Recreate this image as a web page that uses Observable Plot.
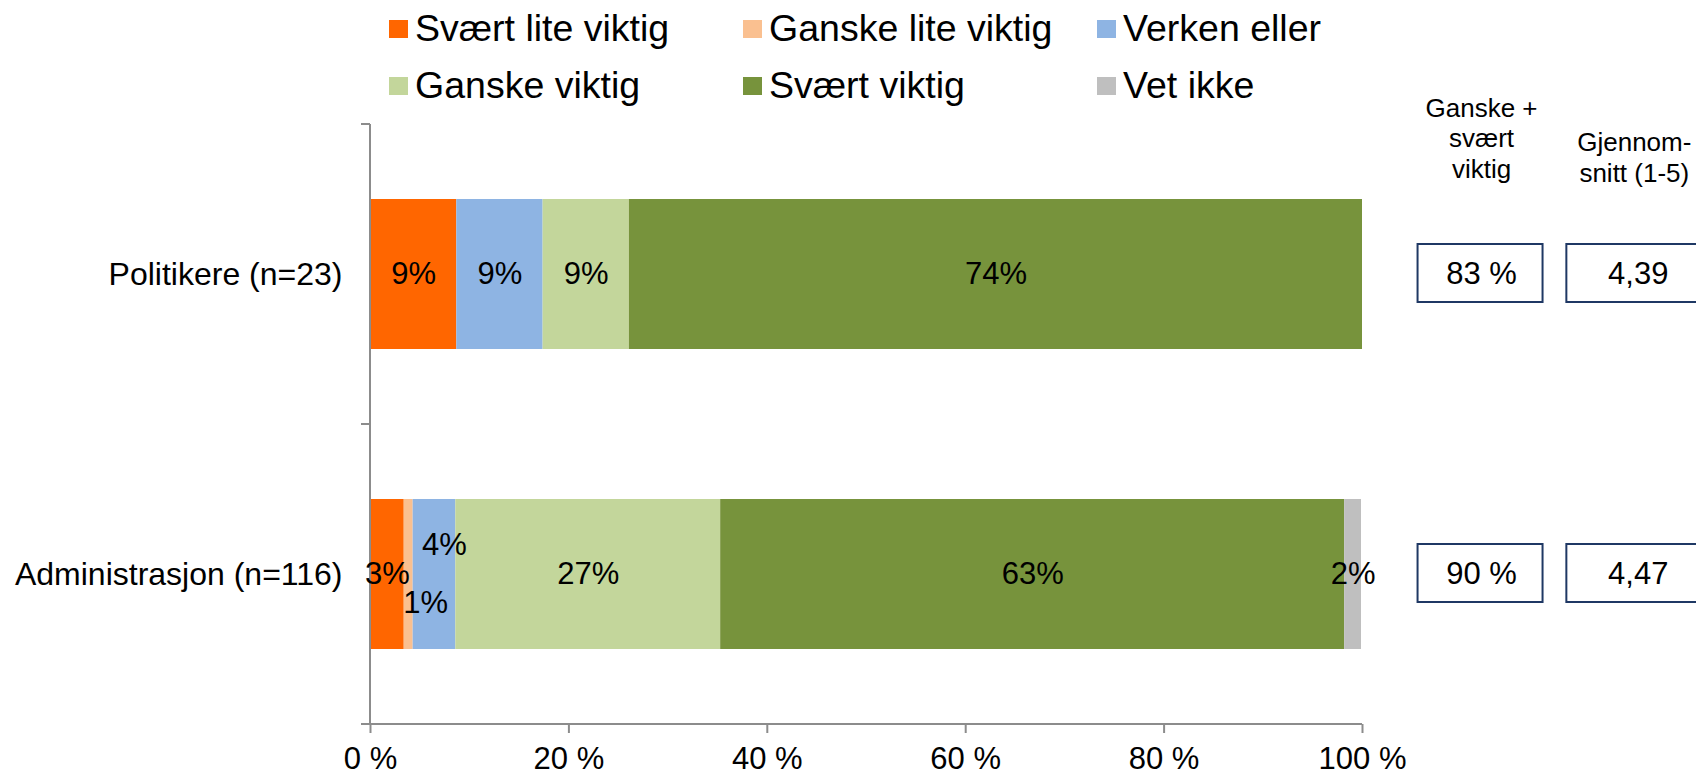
<!DOCTYPE html>
<html><head><meta charset="utf-8">
<script src="https://cdn.jsdelivr.net/npm/d3@7"></script>
<script src="https://cdn.jsdelivr.net/npm/@observablehq/plot@0.6"></script>
<style>
body{margin:0;background:#fff;font-family:"Liberation Sans",Arial,sans-serif;}
#wrap{position:relative;width:1696px;height:776px;overflow:hidden;background:#fff}
#legend{position:absolute;left:389px;top:0;display:grid;grid-template-columns:354px 354px 354px;grid-auto-rows:57px}
.item{display:flex;align-items:center;font-size:37.5px;color:#000;white-space:nowrap}
.sw{width:19px;height:18px;margin-right:7px;flex:none}
</style></head><body><div id="wrap"><div id="legend"></div></div>
<script>
const groups = ["Politikere (n=23)", "Administrasjon (n=116)"];
const answers = ["Svært lite viktig", "Ganske lite viktig", "Verken eller", "Ganske viktig", "Svært viktig", "Vet ikke"];
const colors = ["#FF6600", "#FAC090", "#8EB4E3", "#C3D69B", "#77933C", "#BFBFBF"];
const politikere = [8.7, 0, 8.7, 8.7, 73.9, 0];
const administrasjon = [3.4, 0.9, 4.3, 26.7, 62.9, 1.7];
const politikereLabels = ["9%", "", "9%", "9%", "74%", ""];
const administrasjonLabels = ["3%", "1%", "4%", "27%", "63%", "2%"];
const shareImportant = ["83 %", "90 %"];
const average = ["4,39", "4,47"];
const xTicks = [0, 20, 40, 60, 80, 100];
const headerShare = "Ganske +\nsvært\nviktig";
const headerAverage = "Gjennom-\nsnitt (1-5)";

// legend
const legend = document.getElementById("legend");
answers.forEach((a, i) => {
  const it = document.createElement("div");
  it.className = "item";
  it.innerHTML = `<span class="sw" style="background:${colors[i]}"></span><span>${a}</span>`;
  legend.appendChild(it);
});

// stacked rows
const series = [politikere, administrasjon];
const labels = [politikereLabels, administrasjonLabels];
const rows = [];
groups.forEach((g, gi) => {
  let acc = 0;
  answers.forEach((a, ai) => {
    const v = series[gi][ai];
    rows.push({group: g, answer: a, value: v, label: labels[gi][ai], x1: acc, x2: acc + v, key: gi + "|" + ai});
    acc += v;
  });
});
const segs = rows.filter(d => d.value > 0);
const nudgedUp = ["1|2"];
const nudgedDown = ["1|1"];
const plainLabels = segs.filter(d => d.label && !nudgedUp.includes(d.key) && !nudgedDown.includes(d.key));

function axisLines(index, scales, values, dims) {
  const g = d3.create("svg:g").attr("stroke", "#8c8c8c").attr("stroke-width", 2).attr("fill", "none");
  const left = scales.x(0), right = scales.x(100);
  const top = dims.marginTop, bottom = dims.height - dims.marginBottom;
  const step = (bottom - top) / groups.length;
  g.append("line").attr("x1", left).attr("x2", left).attr("y1", top).attr("y2", bottom);
  g.append("line").attr("x1", left - 9).attr("x2", right).attr("y1", bottom).attr("y2", bottom);
  for (let i = 0; i <= groups.length; i++) {
    g.append("line").attr("x1", left - 9).attr("x2", left).attr("y1", top + i * step).attr("y2", top + i * step);
  }
  return g.node();
}

const chart = Plot.plot({
  width: 1696,
  height: 776,
  marginLeft: 370,
  marginRight: 334,
  marginTop: 124,
  marginBottom: 52,
  style: {fontFamily: '"Liberation Sans", Arial, sans-serif', color: "black", background: "transparent", overflow: "visible"},
  x: {domain: [0, 100], label: null},
  y: {domain: groups, paddingInner: 0.5, paddingOuter: 0.25, label: null},
  color: {domain: answers, range: colors},
  marks: [
    Plot.barX(segs, {x1: "x1", x2: "x2", y: "group", fill: "answer"}),
    axisLines,
    Plot.axisX({ticks: xTicks, tickFormat: d => d + " %", tickSize: 9, tickPadding: 13, stroke: "#8c8c8c", strokeWidth: 2, fontSize: 31, fill: "black"}),
    Plot.axisY({tickSize: 0, tickPadding: 28, fontSize: 32, fill: "black"}),
    Plot.text(plainLabels, {x: d => (d.x1 + d.x2) / 2, y: "group", text: "label", fontSize: 31, fill: "black"}),
    Plot.text(segs.filter(d => nudgedUp.includes(d.key)), {x: d => (d.x1 + d.x2) / 2, y: "group", text: "label", fontSize: 31, fill: "black", dx: 10, dy: -29}),
    Plot.text(segs.filter(d => nudgedDown.includes(d.key)), {x: d => (d.x1 + d.x2) / 2, y: "group", text: "label", fontSize: 31, fill: "black", dx: 17, dy: 29}),
    Plot.barX(groups, {x1: 105.6, x2: 118.2, y: d => d, fill: "white", stroke: "#1F3864", strokeWidth: 2, insetTop: 45, insetBottom: 47}),
    Plot.barX(groups, {x1: 120.6, x2: 135.2, y: d => d, fill: "white", stroke: "#1F3864", strokeWidth: 2, insetTop: 45, insetBottom: 47}),
    Plot.text(groups, {x: 112.0, y: d => d, text: (d, i) => shareImportant[i], fontSize: 31, fill: "black"}),
    Plot.text(groups, {x: 127.8, y: d => d, text: (d, i) => average[i], fontSize: 31, fill: "black"}),
    Plot.text([headerShare], {x: 112.0, frameAnchor: "top", lineAnchor: "bottom", dy: 53, fontSize: 26, lineHeight: 1.17, text: d => d, fill: "black"}),
    Plot.text([headerAverage], {x: 127.4, frameAnchor: "top", lineAnchor: "bottom", dy: 57, fontSize: 26, lineHeight: 1.17, text: d => d, fill: "black"})
  ]
});
chart.style.position = "absolute";
chart.style.left = "0";
chart.style.top = "0";
document.getElementById("wrap").insertBefore(chart, legend);
</script>
</body></html>
